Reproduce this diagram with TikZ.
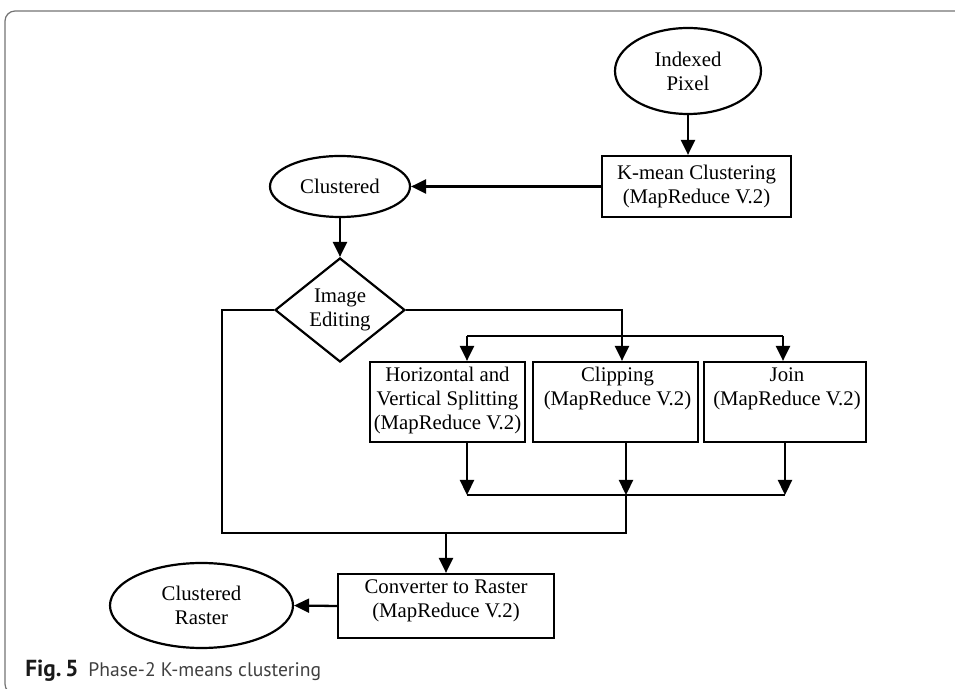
\documentclass[tikz,border=0pt]{standalone}
\usepackage{fontspec}
\setmainfont{Liberation Serif}
\newfontfamily\capfont{PT Sans}
\usetikzlibrary{arrows.meta,shapes.geometric,calc}

\begin{document}
\begin{tikzpicture}[x=0.5pt,y=-0.5pt,
  every node/.style={font=\fontsize{10.4pt}{12pt}\selectfont, inner sep=0pt},
  stage/.style={draw, line width=1.1pt, rectangle},
  term/.style={draw, line width=1.1pt, ellipse},
  decision/.style={draw, line width=1.1pt, diamond},
  flow/.style={line width=1.15pt, -{Triangle[length=7.5pt,width=7pt]}},
  wire/.style={line width=1.15pt},
  frame/.style={black!55, line width=0.6pt, rounded corners=5pt},
]
\useasboundingbox (0,0) rectangle (955,689);

% outer panel frame
\draw[frame] (975,11) -- (5,11) -- (5,694) -- (975,694);

% top part
\node[term, minimum width=73pt, minimum height=43pt, align=center] (ip) at (688,71) {Indexed\\Pixel};
\node[stage, minimum width=94.5pt, minimum height=30.5pt, align=center] (km) at (696.5,186.5) {K-mean Clustering\\(MapReduce V.2)};
\node[term, minimum width=70pt, minimum height=30.5pt] (cl) at (340,186.5) {Clustered};
\node[decision, minimum width=65pt, minimum height=52pt, align=center] (ie) at (340,310) {Image\\Editing};

% editing operations
\node[stage, minimum width=77.5pt, minimum height=40pt] (hv) at (447.5,402) {};
\node[stage, minimum width=82.5pt, minimum height=40pt] (cp) at (615.5,402) {};
\node[stage, minimum width=81pt, minimum height=40pt] (jn) at (785,402) {};
\node[anchor=north, align=center] (hvt) at ([yshift=-3pt]hv.north) {Horizontal and\\Vertical Splitting\\(MapReduce V.2)};
\node[anchor=north, align=center] (cpt) at ([yshift=-3pt,xshift=1pt]cp.north) {Clipping\\(MapReduce V.2)};
\node[anchor=north, align=center] (jnt) at ([yshift=-3pt,xshift=1pt]jn.north) {Join\\(MapReduce V.2)};

% conversion and output
\node[stage, minimum width=108pt, minimum height=32pt] (cv) at (446,606) {};
\node[align=center] (cvt) at ([yshift=2.5pt]cv.center) {Converter to Raster\\(MapReduce V.2)};
\node[term, minimum width=91.5pt, minimum height=42.5pt, align=center] (cr) at (201.5,605.5) {Clustered\\Raster};

% connectors
\draw[flow] (ip.south) -- (ip.south |- km.north);
\draw[flow] (km.west) -- (cl.east);
\draw[flow] (cl.south) -- (ie.north);

\coordinate (bl) at (467,336);
\coordinate (br) at (783,336);
\draw[flow] (ie.east) -| ([xshift=3.25pt]cp.north);
\draw[wire] (bl) -- (br);
\draw[flow] (bl) -- (bl |- hv.north);
\draw[flow] (br) -- (br |- jn.north);

\coordinate (ml) at (467,495);
\coordinate (mm) at (626,495);
\coordinate (mr) at (785,495);
\draw[flow] (hv.south -| ml) -- (ml);
\draw[flow] (cp.south -| mm) -- (mm);
\draw[flow] (jn.south -| mr) -- (mr);
\draw[wire] (ml) -- (mr);

\coordinate (lc) at (222,533);
\draw[wire] (ie.west) -| (lc) -- (lc -| mm) -- (mm);
\draw[flow] (cv.north |- lc) -- (cv.north);
\draw[flow] (cv.west) -- (cr.east);

% caption
\node[anchor=base west, font=\capfont\fontsize{9.8pt}{12pt}\selectfont, text=black!75] (cap) at (25,677)
  {\textcolor{black!90}{\fontsize{11.6pt}{12pt}\selectfont\textbf{Fig.\,5}}\hspace{0.5em}Phase-2 K-means clustering};
\end{tikzpicture}
\end{document}
